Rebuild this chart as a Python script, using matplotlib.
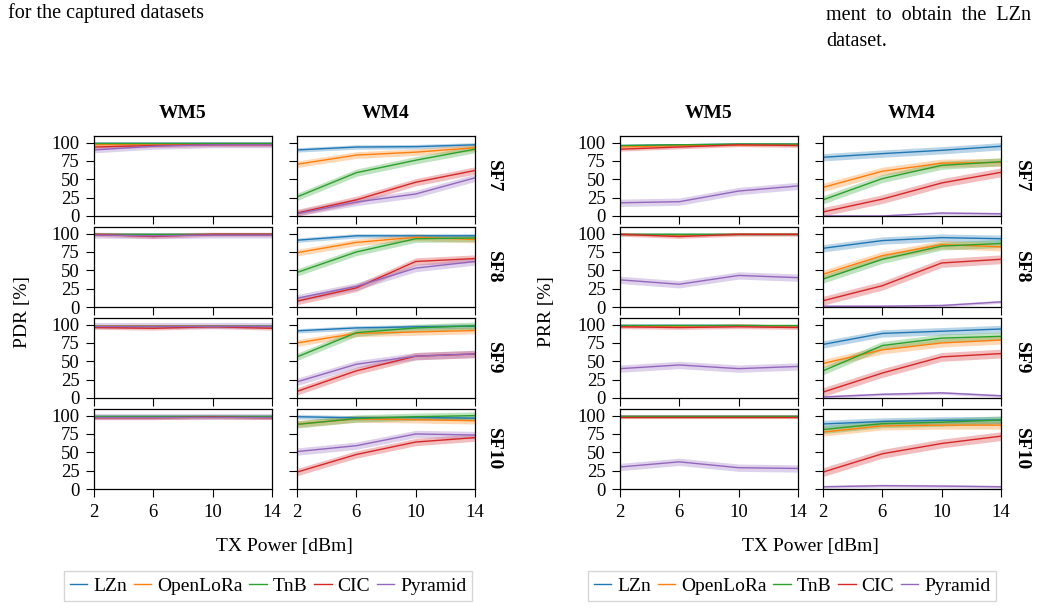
import matplotlib.pyplot as plt

plt.rcParams['font.family'] = ['Liberation Serif', 'DejaVu Serif']

tx_power = [2, 6, 10, 14]
methods = ['LZn', 'OpenLoRa', 'TnB', 'CIC', 'Pyramid']
colors = ['tab:blue', 'tab:orange', 'tab:green', 'tab:red', 'tab:purple']
sfs = ['SF7', 'SF8', 'SF9', 'SF10']
wms = ['WM5', 'WM4']

# rows follow `methods`, columns follow `tx_power`
pdr_wm5_sf7 = [[99.5, 99.5, 99.5, 99.5], [97, 98, 98, 98], [99, 99, 99, 99],
               [94, 96, 97, 97], [90, 95, 97, 97]]
pdr_wm5_sf8 = [[99, 99, 99, 99], [99, 98.5, 99, 99], [100, 100, 100, 100],
               [99, 96, 99, 99], [98, 97, 98, 98]]
pdr_wm5_sf9 = [[98, 98, 98.5, 98], [98, 98, 98, 97.5], [98.5, 98.5, 98.5, 98.5],
               [96, 95, 97, 95], [98, 98, 98, 98]]
pdr_wm5_sf10 = [[99, 99, 99, 99], [98.5, 98.5, 98.5, 98.5], [99.5, 99.5, 99.5, 99.5],
                [97, 97, 98, 97], [98, 98, 98, 98]]

pdr_wm4_sf7 = [[90, 94, 94.5, 97], [70.5, 83, 87, 93], [26, 59, 76, 91],
               [4, 22, 46, 62], [3, 19, 30, 52]]
pdr_wm4_sf8 = [[91, 97, 97, 97], [74, 88, 95, 92], [47, 75, 93, 94],
               [8, 26, 62, 66], [12, 28, 53, 62]]
pdr_wm4_sf9 = [[91.5, 95.5, 97, 98], [75, 88, 90, 92], [56, 89, 95.5, 98.5],
               [9, 37, 57, 60], [22, 46, 57, 60]]
pdr_wm4_sf10 = [[98.5, 97, 97.5, 96.5], [88.5, 95.5, 94.5, 93], [88, 96, 98.5, 100],
                [23, 47, 64, 70], [51, 59, 75, 73.5]]

prr_wm5_sf7 = [[96, 97, 98, 98], [94, 96, 97, 97], [96, 97, 98, 98],
               [91, 94, 97, 96], [18, 19.5, 34, 41]]
prr_wm5_sf8 = [[99, 99, 99, 99], [99, 98, 99, 99], [100, 100, 100, 100],
               [99, 96, 99, 99], [37, 31, 43, 40]]
prr_wm5_sf9 = [[99, 99, 99, 98], [98, 98, 99, 98], [99, 99, 99, 99],
               [97, 96, 97, 96], [40, 45, 40, 43]]
prr_wm5_sf10 = [[99, 99, 99, 99], [98, 98, 98, 98], [99.5, 99.5, 99.5, 99.5],
                [98, 98, 98, 98], [30, 37, 29, 28]]

prr_wm4_sf7 = [[80, 85, 89.5, 95], [39, 61, 72, 73], [22, 51, 69, 74],
               [5.5, 23, 45, 59.5], [0, 0, 4, 3]]
prr_wm4_sf8 = [[80, 90.5, 94.5, 93], [44.6, 70, 85, 82], [38, 65, 83, 86.5],
               [8.5, 29, 60, 65], [1, 1, 2, 7]]
prr_wm4_sf9 = [[73, 88, 91, 94], [47, 65.6, 75, 79], [37, 71.5, 81.6, 84],
               [8, 34, 56, 60.5], [1.4, 5, 7, 3]]
prr_wm4_sf10 = [[88.6, 92, 93.6, 94], [77.6, 86, 87, 87], [81, 89, 91, 94],
                [23, 48, 62, 72], [3, 4.5, 4, 3]]

# half width of the shaded band, one value per method
ci_wm5 = [1, 1.5, 1, 2.5, 4]
ci_pdr_wm4 = [3, 4.5, 5, 5, 5]
ci_prr_wm5 = [1, 1.5, 1, 2.5, 5]
ci_prr_wm4 = [5, 5.5, 5.5, 6, 2]

pdr = {'WM5': [pdr_wm5_sf7, pdr_wm5_sf8, pdr_wm5_sf9, pdr_wm5_sf10],
       'WM4': [pdr_wm4_sf7, pdr_wm4_sf8, pdr_wm4_sf9, pdr_wm4_sf10]}
prr = {'WM5': [prr_wm5_sf7, prr_wm5_sf8, prr_wm5_sf9, prr_wm5_sf10],
       'WM4': [prr_wm4_sf7, prr_wm4_sf8, prr_wm4_sf9, prr_wm4_sf10]}
pdr_ci = {'WM5': ci_wm5, 'WM4': ci_pdr_wm4}
prr_ci = {'WM5': ci_prr_wm5, 'WM4': ci_prr_wm4}

W, H = 1037, 609
fig = plt.figure(figsize=(W / 100, H / 100), dpi=100)

col_w = 178
tops = [136, 227, 318, 409]
row_h = 80


def draw_block(data, ci, lefts, ylabel, label_x, sf_x, legend_x):
    handles = []
    for c, wm in enumerate(wms):
        for r, sf in enumerate(sfs):
            ax = fig.add_axes([lefts[c] / W, 1 - (tops[r] + row_h) / H, col_w / W, row_h / H])
            for k, name in enumerate(methods):
                y = data[wm][r][k]
                lo = [max(v - ci[wm][k], 0) for v in y]
                hi = [v + ci[wm][k] for v in y]
                ax.fill_between(tx_power, lo, hi, color=colors[k], alpha=0.3, lw=0)
                ln, = ax.plot(tx_power, y, color=colors[k], lw=1.0, label=name)
                if c == 0 and r == 0:
                    handles.append(ln)
            ax.set_xlim(2, 14)
            ax.set_ylim(0, 109)
            ax.set_xticks(tx_power)
            ax.set_yticks([0, 25, 50, 75, 100])
            ax.tick_params(direction='out', length=5.5, width=0.8, labelsize=13.5, pad=5)
            ax.tick_params(labelbottom=(r == 3), labelleft=(c == 0))
            for s in ax.spines.values():
                s.set_linewidth(0.9)
            if r == 0:
                ax.set_title(wm, fontsize=14, fontweight='bold', pad=13)
            if c == 1:
                fig.text(sf_x / W, 1 - (tops[r] + row_h / 2) / H, sf, rotation=-90,
                         ha='center', va='center', fontsize=14, fontweight='bold')
    fig.text(label_x / W, 1 - 312 / H, ylabel, rotation=90, ha='center', va='center', fontsize=14)
    mid = (lefts[0] + lefts[1] + col_w) / 2
    fig.text(mid / W, 1 - 546 / H, 'TX Power [dBm]', ha='center', va='center', fontsize=14)
    fig.legend(handles, methods, loc='center', bbox_to_anchor=(legend_x / W, 1 - 586 / H),
               ncol=5, fontsize=14, frameon=True, fancybox=False, edgecolor='0.8',
               handlelength=0.9, handletextpad=0.3, columnspacing=0.35, borderpad=0.3)


draw_block(pdr, pdr_ci, [94, 297], 'PDR [%]', 22, 493, 268)
draw_block(prr, prr_ci, [620, 823], 'PRR [%]', 547, 1021, 792)

# surrounding page text
fig.text(8 / W, 1 - 13 / H, 'for the captured datasets', fontsize=14.5, va='center')
fig.text(826 / W, 1 - 16 / H, 'ment  to  obtain  the  LZn', fontsize=14.5, va='center')
fig.text(826 / W, 1 - 41 / H, 'dataset.', fontsize=14.5, va='center')

fig.savefig('out.png', dpi=100)
